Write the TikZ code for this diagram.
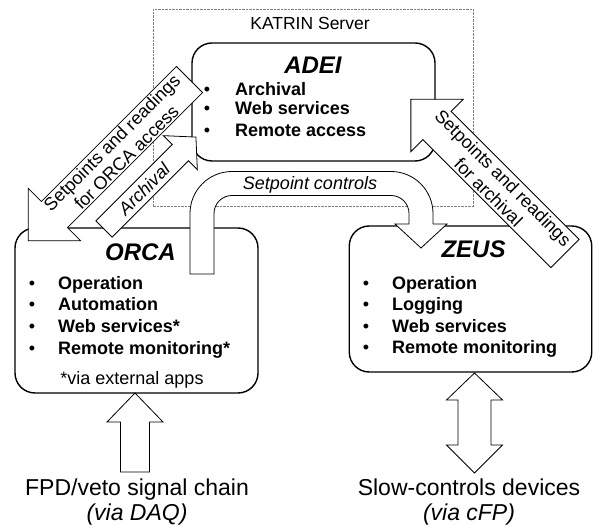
\documentclass[tikz,border=0pt]{standalone}
\usepackage{fontspec}
\setmainfont{Liberation Sans}
\newcommand{\blockarr}[7]{%
  \begin{scope}[shift={(#1,#2)}, rotate=#3]
    \draw[arr] (0,-#5) -- ({#4-#6},-#5) -- ({#4-#6},-#7) -- (#4,0) -- ({#4-#6},#7) -- ({#4-#6},#5) -- (0,#5) -- cycle;
  \end{scope}}
\begin{document}
\begin{tikzpicture}[x=1pt,y=1pt,
  box/.style={draw, line width=1.4pt, rounded corners=20pt, fill=white, inner sep=0pt},
  arr/.style={draw, line width=0.8pt, fill=white, line join=miter},
  blt/.style={anchor=base, inner sep=0pt, font=\fontsize{18}{20}\selectfont},
  itm/.style={anchor=base west, inner sep=0pt, font=\fontsize{18}{20}\selectfont\bfseries},
  ttl/.style={anchor=base, inner sep=0pt, font=\fontsize{24}{26}\selectfont\bfseries\itshape},
  lbl/.style={inner sep=0pt, font=\fontsize{18}{20.5}\selectfont, align=center},
  big/.style={anchor=base, inner sep=0pt, font=\fontsize{23}{26}\selectfont}]
\useasboundingbox (0,0) rectangle (593,525);
% KATRIN server dashed box
\node[draw=gray, line width=0.7pt, dash pattern=on 2.5pt off 1pt, minimum width=320pt, minimum height=197pt, inner sep=0pt] (katrin) at (313,417.5) {};
\node[anchor=base, inner sep=0pt, font=\fontsize{17.5}{20}\selectfont] (katrinlbl) at (310,495) {KATRIN Server};
% boxes
\node[box, minimum width=243pt, minimum height=118pt] (adei) at (313.5,423) {};
\node[box, minimum width=243pt, minimum height=165pt] (orca) at (136.5,214.5) {};
\node[box, minimum width=242.5pt, minimum height=146pt] (zeus) at (470.5,226) {};
% titles
\node[ttl] (adeit) at (313,451) {ADEI};
\node[ttl] (orcat) at (140.5,265) {ORCA};
\node[ttl] (zeust) at (473.5,268) {ZEUS};
% ADEI items
\foreach \t/\y [count=\i] in {Archival/429.5, Web services/410, Remote access/388.5} {
  \node[blt] (ab\i) at (207,\y) {•};
  \node[itm] (ai\i) at (235,\y) {\t};
}
% ORCA items
\foreach \t/\y [count=\i] in {Operation/235.5, Automation/214.5, Web services*/192.5, Remote monitoring*/170.5} {
  \node[blt] (ob\i) at (32,\y) {•};
  \node[itm] (oi\i) at (58,\y) {\t};
}
\node[anchor=base, inner sep=0pt, font=\fontsize{18}{20}\selectfont] (ext) at (132,140.5) {*via external apps};
% ZEUS items
\foreach \t/\y [count=\i] in {Operation/235.5, Logging/214.5, Web services/192.5, Remote monitoring/171.5} {
  \node[blt] (zb\i) at (366,\y) {•};
  \node[itm] (zi\i) at (392,\y) {\t};
}
% left diagonal arrow (ADEI -> ORCA)
\blockarr{189.5}{445.5}{225}{228}{18.5}{37}{37}
\node[lbl, rotate=45] (lefttxt) at (119,375) {Setpoints and readings\\for ORCA access};
% Archival arrow (ORCA -> ADEI)
\blockarr{104}{296}{45}{130}{11.5}{22}{24}
\node[lbl, rotate=45, font=\fontsize{18}{20}\selectfont\itshape] (archtxt) at (144,336) {Archival};
% right diagonal arrow (ZEUS -> ADEI)
\blockarr{565}{271.5}{135}{218}{20}{37}{37}
\node[lbl, rotate=-45] (righttxt) at (496,340) {Setpoints and readings\\for archival};
% Setpoint controls U arrow (ORCA -> ZEUS)
\draw[arr] (190,251) -- (190,311.5) arc[start angle=180, end angle=90, radius=42]
  -- (391,353.5) arc[start angle=90, end angle=0, radius=42]
  -- (433,301) -- (447,301) -- (421,277) -- (395,301) -- (409,301)
  -- (409,311.5) arc[start angle=0, end angle=90, radius=18]
  -- (232,329.5) arc[start angle=90, end angle=180, radius=18]
  -- (214,251) -- cycle;
\node[anchor=base, inner sep=0pt, font=\fontsize{18}{20}\selectfont\itshape] (sptxt) at (310,335) {Setpoint controls};
% FPD arrow
\blockarr{135}{53}{90}{79}{14.5}{29}{28}
% slow controls double arrow
\draw[arr] (474.5,152) -- (502.5,125) -- (491,125) -- (491,80) -- (502.5,80) -- (474.5,52)
  -- (446.5,80) -- (458,80) -- (458,125) -- (446.5,125) -- cycle;
% bottom labels
\node[big] (fpd) at (137,29.5) {FPD/veto signal chain};
\node[big, font=\fontsize{23}{26}\selectfont\itshape] (fpdsub) at (137,4.5) {(via DAQ)};
\node[big] (slow) at (469,29.5) {Slow-controls devices};
\node[big, font=\fontsize{23}{26}\selectfont\itshape] (slowsub) at (469,4.5) {(via cFP)};
\end{tikzpicture}
\end{document}
